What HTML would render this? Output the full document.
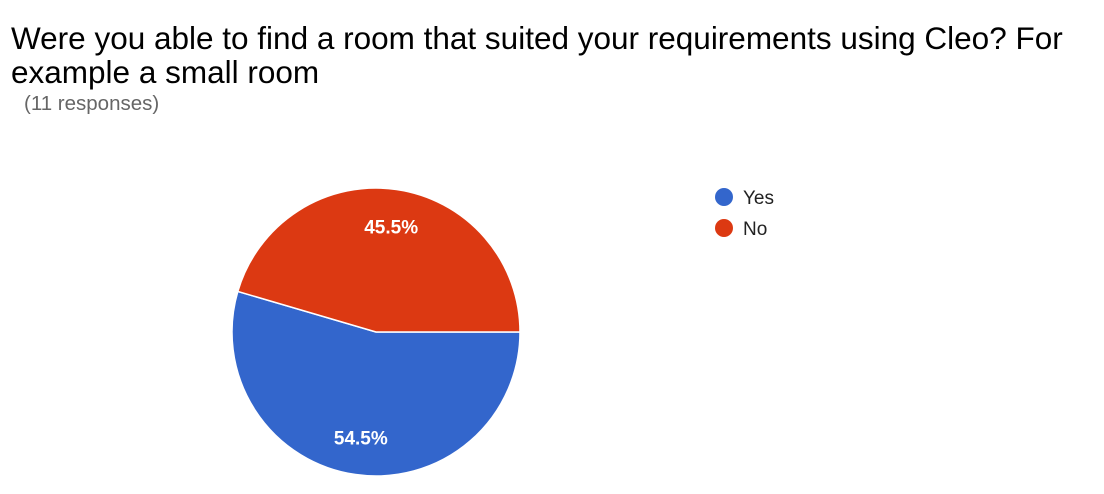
<!DOCTYPE html>
<html>
<head>
<meta charset="utf-8">
<style>
  html, body { margin:0; padding:0; background:#fff; }
  body { width:1104px; height:494px; overflow:hidden; position:relative; font-family:"Liberation Sans", Arial, sans-serif; }
  .title { position:absolute; left:11px; top:21px; font-size:31.5px; line-height:34px; color:#000; width:1100px; white-space:nowrap; }
  .sub { position:absolute; left:24px; top:92px; font-size:20.5px; color:#666; }
</style>
</head>
<body>
<div class="title">Were you able to find a room that suited your requirements using Cleo? For<br>example a small room</div>
<div class="sub">(11 responses)</div>
<svg id="chart" width="1104" height="494" style="position:absolute;left:0;top:0"></svg>
<script>
const categories = ["Yes", "No"];
const values = [6, 5];
const labels = ["54.5%", "45.5%"];
const colors = ["#3366cc", "#dc3912"];

const svg = document.getElementById('chart');
const NS = 'http://www.w3.org/2000/svg';
const cx = 376, cy = 332, r = 144;
const total = values.reduce((a, b) => a + b, 0);
let start = 0;
values.forEach((v, i) => {
  const ang = v / total * Math.PI * 2;
  const end = start + ang;
  const x1 = cx + r * Math.cos(start), y1 = cy + r * Math.sin(start);
  const x2 = cx + r * Math.cos(end), y2 = cy + r * Math.sin(end);
  const large = ang > Math.PI ? 1 : 0;
  const p = document.createElementNS(NS, 'path');
  p.setAttribute('d', `M${cx},${cy} L${x1},${y1} A${r},${r} 0 ${large} 1 ${x2},${y2} Z`);
  p.setAttribute('fill', colors[i]);
  p.setAttribute('stroke', '#fff');
  p.setAttribute('stroke-width', '1.5');
  
  
  svg.appendChild(p);
  const mid = start + ang / 2;
  const t = document.createElementNS(NS, 'text');
  t.setAttribute('x', cx + r * 0.74 * Math.cos(mid));
  t.setAttribute('y', cy + r * 0.74 * Math.sin(mid) + 7);
  t.setAttribute('text-anchor', 'middle');
  t.setAttribute('fill', '#fff');
  t.setAttribute('font-size', '19');
  t.setAttribute('font-weight', 'bold');
  t.setAttribute('font-family', 'Liberation Sans, Arial, sans-serif');
  t.textContent = labels[i];
  
  
  svg.appendChild(t);
  start = end;
});
categories.forEach((c, i) => {
  const y = 197 + i * 31;
  const dot = document.createElementNS(NS, 'circle');
  dot.setAttribute('cx', 724);
  dot.setAttribute('cy', y);
  dot.setAttribute('r', 9);
  dot.setAttribute('fill', colors[i]);
  
  
  svg.appendChild(dot);
  const t = document.createElementNS(NS, 'text');
  t.setAttribute('x', 743);
  t.setAttribute('y', y + 7);
  t.setAttribute('font-size', '19');
  t.setAttribute('fill', '#222');
  t.setAttribute('font-family', 'Liberation Sans, Arial, sans-serif');
  t.textContent = c;
  
  
  svg.appendChild(t);
});
</script>
</body>
</html>
